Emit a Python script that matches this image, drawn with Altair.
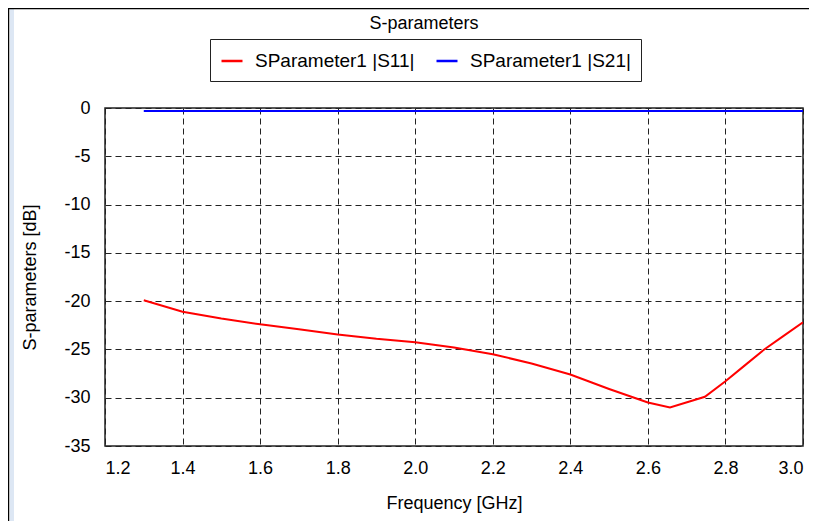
import altair as alt
import pandas as pd

# S11 data
s11_freq = [1.3, 1.4, 1.5, 1.6, 1.7, 1.8, 1.9, 2.0, 2.1, 2.2, 2.3, 2.4, 2.5, 2.6, 2.657, 2.747, 2.8, 2.85, 2.9, 2.95, 3.0]
s11_db = [-19.9, -21.1, -21.8, -22.4, -22.9, -23.45, -23.9, -24.25, -24.8, -25.5, -26.45, -27.6, -29.1, -30.5, -31.0, -29.9, -28.3, -26.65, -25.0, -23.6, -22.2]

# S21 data
s21_freq = [1.3, 1.6, 2.0, 2.4, 2.8, 3.0]
s21_db = [-0.3, -0.3, -0.3, -0.3, -0.3, -0.3]

series_names = ["SParameter1 |S11|", "SParameter1 |S21|"]
series_colors = ["#ff0000", "#0000ff"]

x_ticks = [1.2, 1.4, 1.6, 1.8, 2.0, 2.2, 2.4, 2.6, 2.8, 3.0]
y_ticks = [0, -5, -10, -15, -20, -25, -30, -35]

df = pd.concat([
    pd.DataFrame({"freq": s11_freq, "db": s11_db, "series": series_names[0]}),
    pd.DataFrame({"freq": s21_freq, "db": s21_db, "series": series_names[1]}),
])

FONT = "Liberation Sans"
FS = 18

lines = alt.Chart(df).mark_line(strokeWidth=2, clip=True).encode(
    x=alt.X("freq:Q", scale=alt.Scale(domain=[1.2, 3.0], nice=False, zero=False),
            axis=alt.Axis(values=x_ticks, format=".1f", title="Frequency [GHz]",
                          grid=True, gridDash=[6, 4], gridColor="#222222", gridOpacity=1,
                          ticks=False, domain=False, labelPadding=13, titlePadding=17)),
    y=alt.Y("db:Q", scale=alt.Scale(domain=[-35, 0], nice=False, zero=False),
            axis=alt.Axis(values=y_ticks, labelExpr="toString(datum.value)", title="S-parameters [dB]",
                          grid=True, gridDash=[6, 4], gridColor="#222222", gridOpacity=1,
                          ticks=False, domain=False, labelPadding=15, titlePadding=24)),
    color=alt.Color("series:N", scale=alt.Scale(domain=series_names, range=series_colors),
                    legend=alt.Legend(orient="none", legendX=105, legendY=-69, direction="horizontal",
                                      title=None, strokeColor="#222222", fillColor="white",
                                      padding=10, symbolType="stroke", symbolStrokeWidth=2.5,
                                      symbolSize=441, labelFontSize=19, labelFont=FONT,
                                      labelLimit=400,
                                      labelColor="black", columnPadding=16, labelOffset=11)),
)

# decorative window frame (left edge and top edge)
frame_left = alt.Chart(pd.DataFrame({"k": [0]})).mark_rule(color="#000000", strokeWidth=1.5, clip=False).encode(
    x=alt.value(-96.5), y=alt.value(-100), y2=alt.value(421))
frame_strip = alt.Chart(pd.DataFrame({"k": [0]})).mark_rule(color="#dde7f4", strokeWidth=4, clip=False).encode(
    x=alt.value(-93), y=alt.value(-99), y2=alt.value(421))
frame_top = alt.Chart(pd.DataFrame({"k": [0]})).mark_rule(color="#000000", strokeWidth=1.5, clip=False).encode(
    y=alt.value(-99.5), x=alt.value(-97), x2=alt.value(704))

chart = alt.layer(frame_strip, frame_left, frame_top, lines).properties(
    width=698, height=338,
    autosize=alt.AutoSizeParams(type="none"),
    padding={"left": 97, "top": 100, "right": 6, "bottom": 75},
    title=alt.Title("S-parameters", anchor="middle", fontSize=FS, fontWeight="normal",
                    font=FONT, color="black", offset=8, dy=34, dx=-30),
).configure_view(
    stroke="#222222", strokeWidth=1.5,
).configure_axis(
    labelFont=FONT, titleFont=FONT, labelFontSize=FS, titleFontSize=FS,
    labelColor="black", titleColor="black", titleFontWeight="normal",
)

chart.save("out.html", embed_options={"renderer": "svg", "actions": False})
